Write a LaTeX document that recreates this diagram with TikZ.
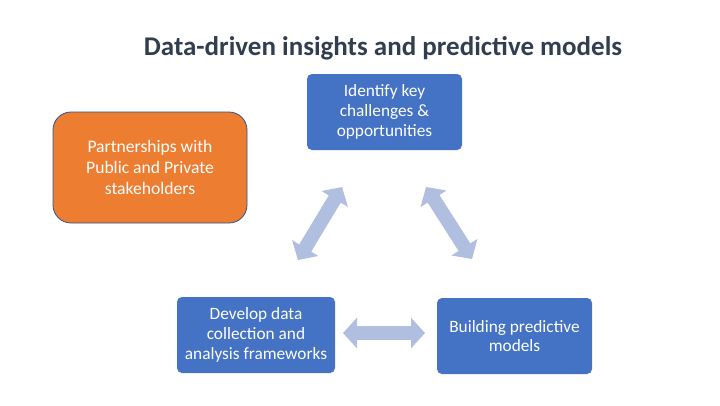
\documentclass[tikz,border=0pt]{standalone}
\usepackage{fontspec}
\setmainfont{Carlito}
\usetikzlibrary{arrows.meta}
\definecolor{boxblue}{HTML}{4472C4}
\definecolor{boxorange}{HTML}{ED7D31}
\definecolor{edgeblue}{HTML}{2F528F}
\definecolor{arrowblue}{HTML}{B0BEDF}
\definecolor{titlecol}{HTML}{323E4F}
\tikzset{
  bluebox/.style={fill=boxblue, draw=none, rounded corners=5pt, text=white,
    align=center, font=\fontsize{17.3}{19.8}\selectfont, inner sep=0pt},
  orangebox/.style={fill=boxorange, draw=edgeblue, line width=0.8pt, rounded corners=18pt,
    text=white, align=center, font=\fontsize{17.6}{21}\selectfont, inner sep=0pt},
  blockarrow/.style={draw=arrowblue, line width=14pt,
    {Triangle[width=30pt,length=14pt]}-{Triangle[width=30pt,length=14pt]}},
}
\begin{document}
\begin{tikzpicture}[x=1pt,y=-1pt]
\useasboundingbox (0,0) rectangle (720,405);
\node[font=\bfseries\fontsize{27}{30}\selectfont, text=titlecol] (title) at (383,48) {Data-driven insights and predictive models};
\node[bluebox, minimum width=155pt, minimum height=76pt] (top) at (384.5,112) {Identify key\\challenges \&\\opportunities};
\node[bluebox, minimum width=158pt, minimum height=76pt] (bl) at (256,335) {Develop data\\collection and\\analysis frameworks};
\node[bluebox, minimum width=155pt, minimum height=76pt] (br) at (514.5,336) {Building predictive\\models};
\node[orangebox, minimum width=194pt, minimum height=111pt] (partner) at (150,167.5) {Partnerships with\\Public and Private\\stakeholders};
\coordinate (l1) at (298,260);
\coordinate (l2) at (342,187);
\coordinate (r1) at (426,187);
\coordinate (r2) at (472,259);
\coordinate (b1) at (343,333);
\coordinate (b2) at (425,333);
\draw[blockarrow] (l1) -- (l2);
\draw[blockarrow] (r1) -- (r2);
\draw[blockarrow] (b1) -- (b2);
\end{tikzpicture}
\end{document}
